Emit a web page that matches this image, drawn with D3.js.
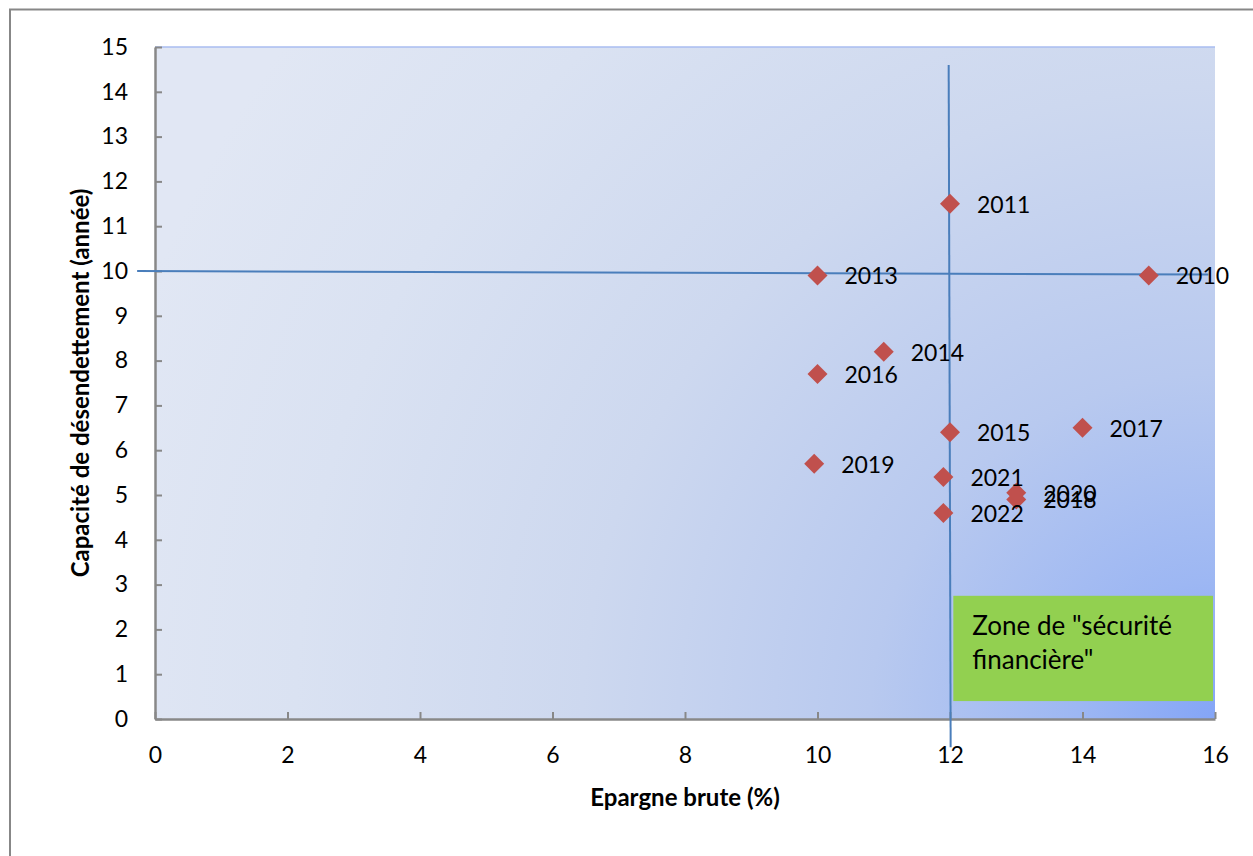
<!DOCTYPE html>
<html>
<head>
<meta charset="utf-8">
<script src="https://cdn.jsdelivr.net/npm/d3@7"></script>
<style>
  body { margin: 0; background: #fff; }
  svg { display: block; font-family: Lato, "Liberation Sans", sans-serif; }
</style>
</head>
<body>
<div id="chart"></div>
<script>
// data
const years    = ["2010", "2011", "2013", "2014", "2015", "2016", "2017", "2018", "2019", "2020", "2021", "2022"];
const epargne  = [15, 12, 10, 11, 12, 10, 14, 13, 9.95, 13, 11.9, 11.9];
const capacite = [9.9, 11.5, 9.9, 8.2, 6.4, 7.7, 6.5, 4.9, 5.7, 5.05, 5.4, 4.6];
const xTicks = [0, 2, 4, 6, 8, 10, 12, 14, 16];
const yTicks = d3.range(0, 16);
// hand-drawn reference lines (data units)
const hLine = [[-0.27, 10], [15.9, 9.92]];
const vLine = [[11.98, 14.6], [12.01, -0.63]];
const zoneText = ["Zone de \"sécurité", "financière\""];

const w = 1253, h = 856;
const svg = d3.select("#chart").append("svg")
  .attr("width", w)
  .attr("height", h);

const x = d3.scaleLinear().domain([0, 16]).range([155, 1215]);
const y = d3.scaleLinear().domain([0, 15]).range([719, 47]);

// outer chart frame
svg.append("rect")
  .attr("x", 10).attr("y", 9.5)
  .attr("width", w + 20).attr("height", h + 20)
  .attr("fill", "none")
  .attr("stroke", "#878787")
  .attr("stroke-width", 2);

// plot area background
const defs = svg.append("defs");
const grad = defs.append("radialGradient")
  .attr("id", "bg")
  .attr("gradientUnits", "userSpaceOnUse")
  .attr("cx", x(16)).attr("cy", y(0))
  .attr("r", 1150);
[[0, "#84a5f7"], [0.12, "#9db7f3"], [0.3, "#b8c9ef"], [0.55, "#cdd8ef"], [0.8, "#dae2f2"], [1, "#e1e7f4"]]
  .forEach(s => grad.append("stop").attr("offset", s[0]).attr("stop-color", s[1]));

svg.append("rect")
  .attr("x", x(0)).attr("y", y(15))
  .attr("width", x(16) - x(0)).attr("height", y(0) - y(15))
  .attr("fill", "url(#bg)");
svg.append("line")
  .attr("x1", x(0)).attr("x2", x(16))
  .attr("y1", y(15)).attr("y2", y(15))
  .attr("stroke", "#a9bdf0").attr("stroke-width", 1.5);

// green zone box
const zone = svg.append("g");
zone.append("rect")
  .attr("x", x(12.05)).attr("y", y(2.75))
  .attr("width", x(15.97) - x(12.05)).attr("height", y(0.4) - y(2.75))
  .attr("fill", "#92d050");
zone.selectAll("text")
  .data(zoneText)
  .enter()
  .append("text")
  .attr("x", x(12.05) + 19)
  .attr("y", (d, i) => y(2.75) + 39 + i * 34)
  .attr("font-size", 26)
  .attr("fill", "#000")
  .text(d => d);

// axes
const xAxis = d3.axisBottom(x)
  .tickValues(xTicks)
  .tickSizeInner(-7)
  .tickSizeOuter(0)
  .tickPadding(28);
const yAxis = d3.axisLeft(y)
  .tickValues(yTicks)
  .tickSizeInner(-7)
  .tickSizeOuter(0)
  .tickPadding(27);

const gx = svg.append("g")
  .attr("transform", `translate(0, ${y(0)})`)
  .call(xAxis);
const gy = svg.append("g")
  .attr("transform", `translate(${x(0)}, 0)`)
  .call(yAxis);

[gx, gy].forEach(g => {
  g.select(".domain").attr("stroke", "#888").attr("stroke-width", 2.5);
  g.selectAll(".tick line").attr("stroke", "#888").attr("stroke-width", 2);
  g.selectAll(".tick text")
    .attr("font-family", "Lato, sans-serif")
    .attr("font-size", 23)
    .attr("fill", "#000");
});

// reference lines
const line = d3.line().x(d => x(d[0])).y(d => y(d[1]));
svg.append("path").attr("d", line(hLine))
  .attr("fill", "none").attr("stroke", "#4a7ebb").attr("stroke-width", 2);
svg.append("path").attr("d", line(vLine))
  .attr("fill", "none").attr("stroke", "#4a7ebb").attr("stroke-width", 2);

// points
const data = years.map((yr, i) => ({ year: yr, ep: epargne[i], cap: capacite[i] }));
const diamond = d3.symbol().type(d3.symbolSquare).size(200);

svg.selectAll("path.pt")
  .data(data)
  .enter()
  .append("path")
  .attr("class", "pt")
  .attr("d", diamond)
  .attr("transform", d => `translate(${x(d.ep)}, ${y(d.cap)}) rotate(45)`)
  .attr("fill", "#c0504d");

svg.selectAll("text.lbl")
  .data(data)
  .enter()
  .append("text")
  .attr("class", "lbl")
  .attr("x", d => x(d.ep) + 27)
  .attr("y", d => y(d.cap) + 9)
  .attr("font-size", 23)
  .attr("fill", "#000")
  .text(d => d.year);

// axis titles
svg.append("text")
  .attr("x", 685)
  .attr("y", 806)
  .attr("text-anchor", "middle")
  .attr("font-size", 24)
  .attr("font-weight", "bold")
  .text("Epargne brute (%)");

svg.append("text")
  .attr("text-anchor", "middle")
  .attr("transform", "translate(89, 383) rotate(-90)")
  .attr("font-size", 24)
  .attr("font-weight", "bold")
  .text("Capacité de désendettement (année)");
</script>
</body>
</html>
